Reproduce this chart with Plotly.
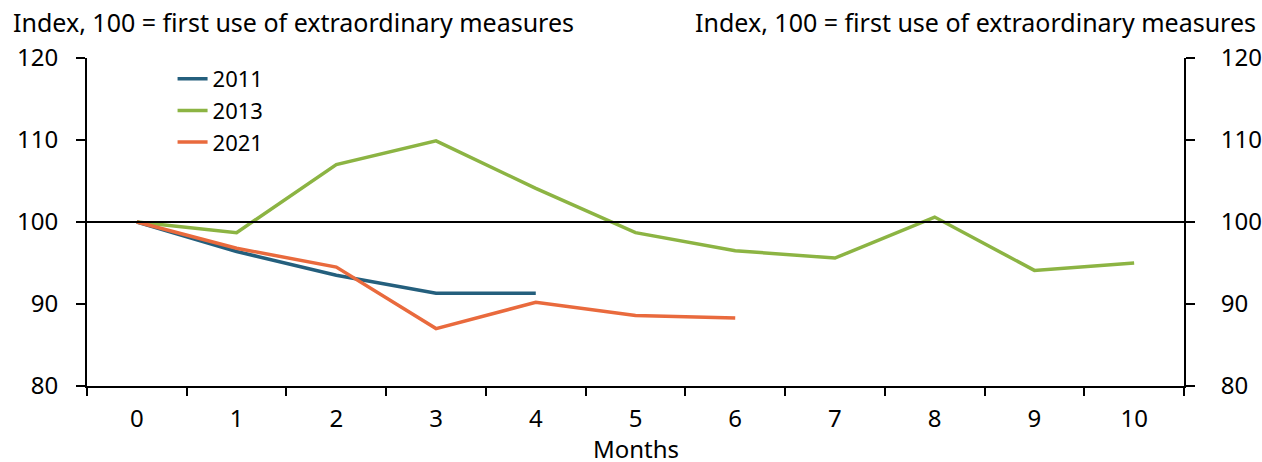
import plotly.graph_objects as go

months = [str(i) for i in range(11)]
y2011 = [100, 96.4, 93.5, 91.3, 91.3]
y2013 = [100, 98.7, 107.0, 109.9, 104.1, 98.7, 96.5, 95.6, 100.6, 94.1, 95.0]
y2021 = [100, 96.8, 94.5, 87.0, 90.2, 88.6, 88.3]
series = [("2011", y2011, "#245f7d"), ("2013", y2013, "#8cb443"), ("2021", y2021, "#e96a3d")]
ytitle = "Index, 100 = first use of extraordinary measures"
xtitle = "Months"
FONT = "Noto Sans"
FS = 24

fig = go.Figure()
for name, vals, col in series:
    fig.add_trace(go.Scatter(x=months[:len(vals)], y=vals, name=name, mode="lines",
                             line=dict(color=col, width=3.5)))
fig.add_trace(go.Scatter(x=months, y=[None]*len(months), yaxis="y2", showlegend=False,
                         hoverinfo="skip"))

fig.add_hline(y=100, line=dict(color="black", width=2))

axis_common = dict(range=[80, 120], dtick=10, showgrid=False, zeroline=False,
                   showline=True, linecolor="black", linewidth=2, ticks="outside",
                   ticklen=9, tickwidth=2, tickcolor="black", automargin=False,
                   tickfont=dict(family=FONT, size=FS, color="black"))
fig.update_layout(
    width=1262, height=462,
    margin=dict(l=87, r=78, t=58, b=76),
    paper_bgcolor="white", plot_bgcolor="white",
    font=dict(family=FONT, color="black"),
    xaxis=dict(type="category", categoryorder="array", categoryarray=months,
               range=[-0.5, 10.5], tickson="boundaries", ticks="outside", ticklen=8,
               tickwidth=1.5, tickcolor="black", showline=True, linecolor="black",
               linewidth=2, showgrid=False, ticklabelstandoff=10, automargin=False,
               tickfont=dict(family=FONT, size=FS, color="black")),
    yaxis=dict(side="left", ticklabelstandoff=13, **axis_common),
    yaxis2=dict(side="right", overlaying="y", ticklabelstandoff=21, **axis_common),
    legend=dict(x=0.078, y=1.0, xanchor="left", yanchor="top", bgcolor="rgba(0,0,0,0)",
                font=dict(family=FONT, size=22, color="black"), tracegroupgap=0),
    showlegend=True,
    annotations=[
        dict(text=ytitle, xref="paper", yref="paper", x=-0.069, y=1.0, yshift=36,
             xanchor="left", yanchor="middle", showarrow=False,
             font=dict(family=FONT, size=25, color="black")),
        dict(text=ytitle, xref="paper", yref="paper", x=1.0675, y=1.0, yshift=36,
             xanchor="right", yanchor="middle", showarrow=False,
             font=dict(family=FONT, size=25, color="black")),
        dict(text=xtitle, xref="paper", yref="paper", x=0.5, y=0.0, yshift=-62,
             xanchor="center", yanchor="middle", showarrow=False, borderpad=0,
             font=dict(family=FONT, size=FS, color="black")),
    ],
)
fig.write_html("out.html", config={"displayModeBar": False},
               post_script="document.body.style.margin='0';")
